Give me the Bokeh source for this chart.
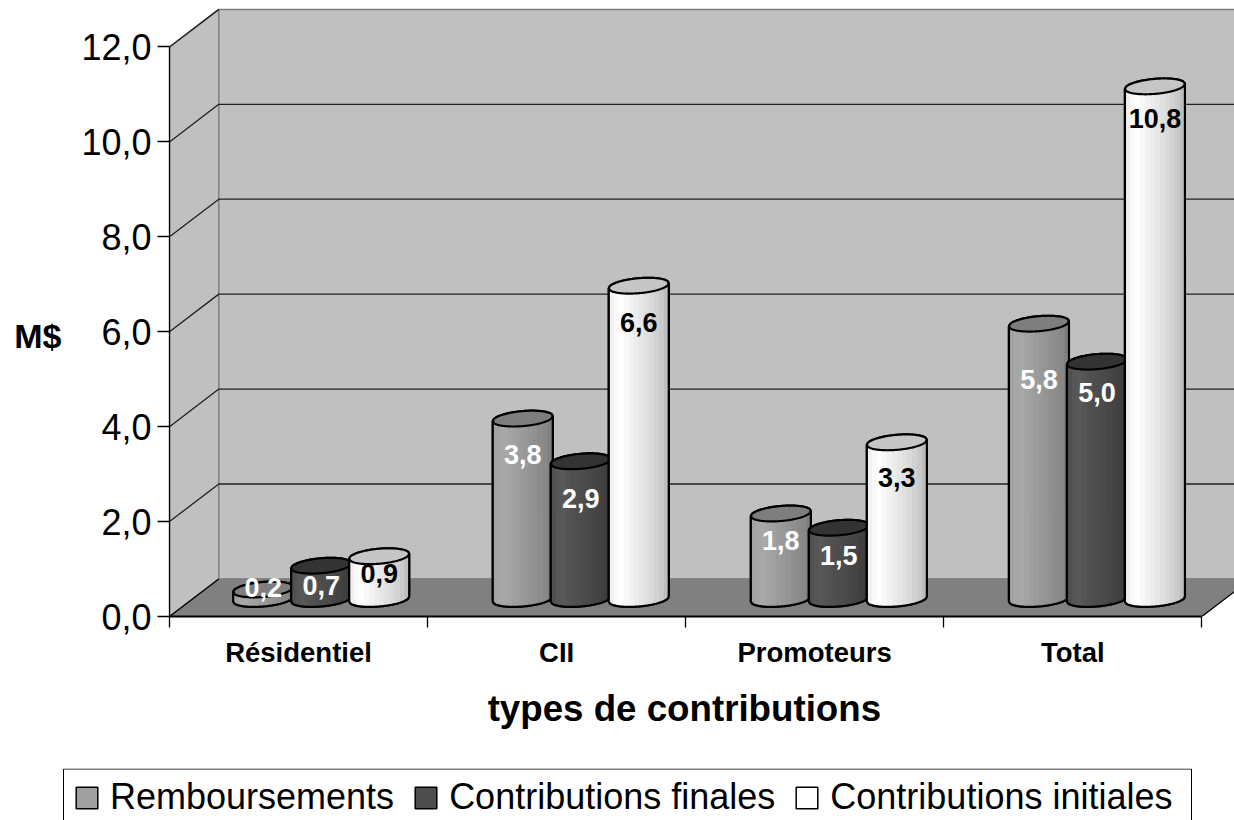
import numpy as np
from bokeh.embed import file_html
from bokeh.resources import INLINE
from bokeh.plotting import figure
from bokeh.models import (Range1d, FixedTicker, Legend, LegendItem, ColumnDataSource,
                          LinearAxis)
from bokeh.core.properties import value

categories = ["Résidentiel", "CII", "Promoteurs", "Total"]
series_names = ["Remboursements", "Contributions finales", "Contributions initiales"]
remboursements = [0.2, 3.8, 1.8, 5.8]
contributions_finales = [0.7, 2.9, 1.5, 5.0]
contributions_initiales = [0.9, 6.6, 3.3, 10.8]
series_values = [remboursements, contributions_finales, contributions_initiales]
y_ticks = [0, 2, 4, 6, 8, 10, 12]
y_tick_labels = ["0,0", "2,0", "4,0", "6,0", "8,0", "10,0", "12,0"]
y_title, x_title = "M$", "types de contributions"

# styles
FONT = "Liberation Sans"
band_colors = [
    ["#a2a2a2", "#a6a6a6", "#a8a8a8", "#a4a4a4", "#a0a0a0", "#9c9c9c", "#989898", "#949494", "#909090", "#8c8c8c", "#888888", "#808080"],
    ["#505050", "#565656", "#585858", "#545454", "#505050", "#4e4e4e", "#4c4c4c", "#4a4a4a", "#464646", "#444444", "#404040", "#3c3c3c"],
    ["#f0f0f0", "#fafafa", "#ffffff", "#f8f8f8", "#f2f2f2", "#ececec", "#e6e6e6", "#e0e0e0", "#dadada", "#d2d2d2", "#cacaca", "#bebebe"],
]
base_colors = ["#a0a0a0", "#4d4d4d", "#ffffff"]
top_colors = ["#7e7e7e", "#333333", "#c6c6c6"]
label_colors = ["#ffffff", "#ffffff", "#000000"]
# how far below the top of each bar its label sits (px), per series and category
label_drop = [[-2, 36, 27, 56], [20, 37, 28, 31], [17, 37, 35, 32]]
# small horizontal nudge of each bar group (px)
group_nudge = [-2.0, -0.5, -0.5, -0.5]

# geometry
PX_X, PX_Y = 258.08, 47.46          # pixels per data unit
W, H = 1234, 768
LEG_H = 52
ML, MB = 169, 152
DX, DY = 49.3 / PX_X, 37.6 / PX_Y   # depth of the box
STEP = 58.0 / PX_X
A, B = 30.0 / PX_X, 7.5 / PX_Y      # cylinder radii
TILT = 2.5 / PX_Y
BASE = 0.37

p = figure(width=W, height=H, output_backend="svg", toolbar_location=None,
           x_range=Range1d(0, (W - ML) / PX_X), y_range=Range1d(0, (H - MB) / PX_Y),
           min_border_left=ML, min_border_bottom=MB, min_border_top=0, min_border_right=0,
           x_axis_location=None, y_axis_location=None)
p.outline_line_color = None
p.grid.visible = False
p.background_fill_color = "#ffffff"

xmax, ymax = 4.0, 12.0
# walls and floor
p.patch([0, DX, DX, 0], [0, DY, ymax + DY, ymax], fill_color="#c0c0c0", line_color="#808080", line_width=1.5)
p.patch([DX, xmax + DX, xmax + DX, DX], [DY, DY, ymax + DY, ymax + DY], fill_color="#c0c0c0", line_color="#808080", line_width=1.5)
p.patch([0, xmax, xmax + DX, DX], [0, 0, DY, DY], fill_color="#808080", line_color="#808080", line_width=1)
# gridlines on the walls
gx, gy = [], []
for v in y_ticks[1:]:
    gx.append([0, DX, xmax + DX] if v < 12 else [0, DX])
    gy.append([v, v + DY, v + DY] if v < 12 else [v, v + DY])
p.multi_line(gx, gy, line_color="#202020", line_width=1.3)
p.line([0, DX], [0, DY], line_color="#000000", line_width=1.3)
p.line([xmax, xmax + DX], [0, DY], line_color="#000000", line_width=1.3)


def ellipse_front(t):
    return -np.sqrt(np.clip(1 - t * t, 0, 1))


all_labels = {"x": [], "y": [], "t": [], "c": [], "d": []}
for s, vals in enumerate(series_values):
    for g, v in enumerate(vals):
        cx = g + 0.5 + DX / 2 + (s - 1) * STEP + group_nudge[g] / PX_X
        y0, y1 = BASE, BASE + v
        # silhouette
        ts = np.linspace(-1, 1, 61)
        low_x = cx + A * ts
        low_y = y0 + TILT * ts + B * ellipse_front(ts)
        up_y = y1 + TILT * ts - B * ellipse_front(ts)
        top_front = y1 + TILT * ts + B * ellipse_front(ts)
        sx = list(low_x) + list(low_x[::-1])
        sy = list(low_y) + list(up_y[::-1])
        p.patch(sx, sy, fill_color=base_colors[s], line_color="#000000", line_width=2.2)
        # shaded bands
        edges = np.linspace(-1, 1, len(band_colors[s]) + 1)
        bx, by = [], []
        for i in range(len(band_colors[s])):
            tt = np.linspace(edges[i], min(edges[i + 1] + 0.01, 1), 8)
            xx = cx + A * tt
            bx.append(list(xx) + list(xx[::-1]))
            by.append(list(y0 + TILT * tt + B * ellipse_front(tt)) +
                      list((y1 + TILT * tt + B * ellipse_front(tt))[::-1]))
        p.patches(bx, by, fill_color=band_colors[s], line_color=None)
        # top face
        p.patch(list(low_x) + list(low_x[::-1]), list(top_front) + list(up_y[::-1]),
                fill_color=top_colors[s], line_color="#000000", line_width=2.2)
        # outline of the body
        p.multi_line([[low_x[0], low_x[0]], list(low_x), [low_x[-1], low_x[-1]]],
                     [[y1 - TILT, y0 - TILT], list(low_y), [y0 + TILT, y1 + TILT]],
                     line_color="#000000", line_width=2.2)
        all_labels["x"].append(cx)
        all_labels["y"].append(y1)
        all_labels["t"].append(f"{v:.1f}".replace(".", ","))
        all_labels["c"].append(label_colors[s])
        all_labels["d"].append(label_drop[s][g])

p.text("x", "y", text="t", text_color="c", y_offset="d", source=ColumnDataSource(all_labels),
       text_font=value(FONT), text_font_style="bold", text_font_size="27px",
       text_align="center", text_baseline="middle")

# axes
left = LinearAxis(bounds=(0, 12), ticker=FixedTicker(ticks=y_ticks),
                  major_label_overrides={t: l for t, l in zip(y_ticks, y_tick_labels)})
left.major_label_text_font = FONT
left.major_label_text_font_size = "36px"
left.major_label_text_color = "#000000"
left.major_label_standoff = 6
left.major_tick_in = 0
left.major_tick_out = 12
left.minor_tick_line_color = None
left.major_tick_line_color = "#000000"
left.axis_line_color = "#000000"
left.axis_line_width = 1.3
left.major_tick_line_width = 1.3
p.add_layout(left, "left")

# the axis titles are the labels of a second axis each, so they can sit off the frame's centre
Y_TITLE_AT, X_TITLE_AT = 5.9, 1.995
left2 = LinearAxis(ticker=FixedTicker(ticks=[Y_TITLE_AT]), major_label_overrides={Y_TITLE_AT: y_title})
left2.axis_line_color = None
left2.major_tick_line_color = None
left2.minor_tick_line_color = None
left2.major_tick_in = 0
left2.major_tick_out = 0
left2.major_label_standoff = 17
left2.major_label_text_font = FONT
left2.major_label_text_font_style = "bold"
left2.major_label_text_font_size = "34px"
left2.major_label_text_color = "#000000"
p.add_layout(left2, "left")

cat_pos = [0.5, 1.5, 2.5, 3.5]
below = LinearAxis(bounds=(0, 4),
                   ticker=FixedTicker(ticks=cat_pos, minor_ticks=[0, 1, 2, 3, 4]),
                   major_label_overrides={t: l for t, l in zip(cat_pos, categories)})
below.major_label_text_font = FONT
below.major_label_text_font_style = "bold"
below.major_label_text_font_size = "27.5px"
below.major_label_text_color = "#000000"
below.major_label_standoff = 9
below.major_tick_line_color = None
below.major_tick_in = 0
below.major_tick_out = 0
below.minor_tick_in = 0
below.minor_tick_out = 11
below.minor_tick_line_color = "#000000"
below.minor_tick_line_width = 1.3
below.axis_line_color = "#000000"
below.axis_line_width = 1.8
p.add_layout(below, "below")

below2 = LinearAxis(ticker=FixedTicker(ticks=[X_TITLE_AT]), major_label_overrides={X_TITLE_AT: x_title})
below2.axis_line_color = None
below2.major_tick_line_color = None
below2.minor_tick_line_color = None
below2.major_tick_in = 0
below2.major_tick_out = 0
below2.major_label_standoff = 17
below2.major_label_text_font = FONT
below2.major_label_text_font_style = "bold"
below2.major_label_text_font_size = "36.7px"
below2.major_label_text_color = "#000000"
p.add_layout(below2, "below")

# legend strip: its frame runs from the box's left to its right edge
BOX_L, BOX_R = 62, 1192
q = figure(width=W, height=LEG_H, output_backend="svg", toolbar_location=None,
           x_range=Range1d(0, BOX_R - BOX_L), y_range=Range1d(0, LEG_H),
           min_border_left=BOX_L, min_border_right=W - BOX_R, min_border_top=0, min_border_bottom=0,
           x_axis_location=None, y_axis_location=None)
q.outline_line_color = None
q.grid.visible = False
q.line([1, 1, BOX_R - BOX_L - 1, BOX_R - BOX_L - 1], [0, LEG_H - 0.5, LEG_H - 0.5, 0], line_color="#000000", line_width=1)
items = []
for name, color in zip(series_names, base_colors):
    r = q.patch([float("nan")], [float("nan")], fill_color=color, line_color="#000000", line_width=1.5)
    items.append(LegendItem(label=name, renderers=[r]))
legend = Legend(items=items, orientation="horizontal", location=(11, 2), margin=0, padding=0,
                spacing=18, glyph_width=27, glyph_height=27, label_standoff=10,
                label_text_font=FONT, label_text_font_size="36px", label_text_color="#000000",
                border_line_color=None, background_fill_alpha=0)
q.add_layout(legend, "center")

open("out.html", "w").write(file_html([p, q], INLINE))
